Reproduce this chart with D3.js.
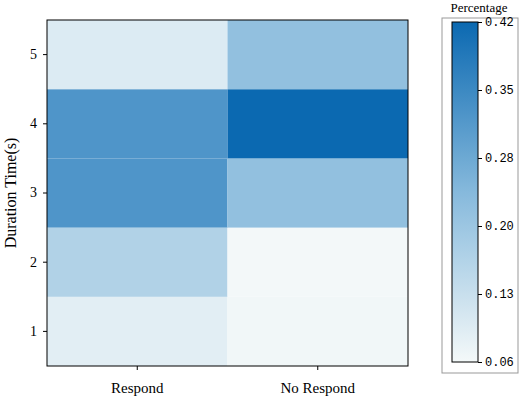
<!DOCTYPE html>
<html><head><meta charset="utf-8">
<script src="https://cdn.jsdelivr.net/npm/d3@7"></script>
<style>body{margin:0;background:#fff}</style>
</head><body><div id="chart"></div>
<script>
// Data
const groups = ["Respond", "No Respond"];
const durations = ["1", "2", "3", "4", "5"];
const respondValues = [0.09, 0.17, 0.32, 0.32, 0.10];
const noRespondValues = [0.065, 0.062, 0.22, 0.42, 0.22];
const colorTicks = [0.06, 0.132, 0.204, 0.276, 0.348, 0.42];
const colorTickLabels = ["0.06", "0.13", "0.20", "0.28", "0.35", "0.42"];

const width = 520, height = 405;
const svg = d3.select("#chart").append("svg").attr("width", width).attr("height", height);
const plot = { left: 47, right: 408, top: 20, bottom: 366 };

const x = d3.scaleBand().domain(groups).range([plot.left, plot.right]);
const y = d3.scaleBand().domain(durations).range([plot.bottom, plot.top]);
const color = d3.scaleLinear()
  .domain([0.06, 0.24, 0.42])
  .range(["#f4f9f9", "#86b9dc", "#0b69b1"]);

const cells = [];
durations.forEach((d, i) => {
  cells.push({ g: groups[0], d: d, v: respondValues[i] });
  cells.push({ g: groups[1], d: d, v: noRespondValues[i] });
});

svg.selectAll("rect.cell").data(cells).enter().append("rect")
  .attr("class", "cell")
  .attr("x", d => x(d.g)).attr("y", d => y(d.d))
  .attr("width", x.bandwidth()).attr("height", y.bandwidth())
  .attr("fill", d => color(d.v));

svg.append("rect").attr("x", plot.left).attr("y", plot.top)
  .attr("width", plot.right - plot.left).attr("height", plot.bottom - plot.top)
  .attr("fill", "none").attr("stroke", "#000");

const fontSerif = "'Liberation Serif', 'DejaVu Serif', serif";

svg.append("g").attr("transform", `translate(0,${plot.bottom})`)
  .call(d3.axisBottom(x).tickSize(4).tickPadding(12))
  .call(g => g.select(".domain").remove())
  .selectAll("text").style("font-family", fontSerif).style("font-size", "15px").attr("fill", "#000");

svg.append("g").attr("transform", `translate(${plot.left},0)`)
  .call(d3.axisLeft(y).tickSize(4).tickPadding(6))
  .call(g => g.select(".domain").remove())
  .selectAll("text").style("font-family", fontSerif).style("font-size", "14px").attr("fill", "#000");

svg.append("text")
  .attr("transform", `translate(16,${(plot.top + plot.bottom) / 2}) rotate(-90)`)
  .attr("text-anchor", "middle")
  .style("font-family", fontSerif).style("font-size", "16px")
  .text("Duration Time(s)");

// Colorbar
const cb = { x: 452, w: 26, top: 22, bottom: 362 };
svg.append("rect").attr("x", 442).attr("y", 18).attr("width", 76).attr("height", 355)
  .attr("fill", "#fff").attr("stroke", "#999");

const grad = svg.append("defs").append("linearGradient").attr("id", "cbgrad")
  .attr("x1", 0).attr("y1", 1).attr("x2", 0).attr("y2", 0);
d3.range(0, 1.0001, 0.1).forEach(t => {
  grad.append("stop").attr("offset", t).attr("stop-color", color(0.06 + t * 0.36));
});

const cy = d3.scaleLinear().domain([0.06, 0.42]).range([cb.bottom, cb.top]);
svg.append("rect").attr("x", cb.x).attr("y", cb.top).attr("width", cb.w)
  .attr("height", cb.bottom - cb.top).attr("fill", "url(#cbgrad)").attr("stroke", "#000");

svg.append("g").attr("transform", `translate(${cb.x + cb.w},0)`)
  .call(d3.axisRight(cy).tickValues(colorTicks).tickSize(4).tickPadding(3)
    .tickFormat((d, i) => colorTickLabels[i]))
  .call(g => g.select(".domain").remove())
  .selectAll("text").style("font-family", "'Liberation Mono', 'DejaVu Sans Mono', monospace")
  .style("font-size", "12px").attr("fill", "#000");

svg.append("text").attr("x", 479).attr("y", 12).attr("text-anchor", "middle")
  .style("font-family", fontSerif).style("font-size", "13px").text("Percentage");
</script>
</body></html>
